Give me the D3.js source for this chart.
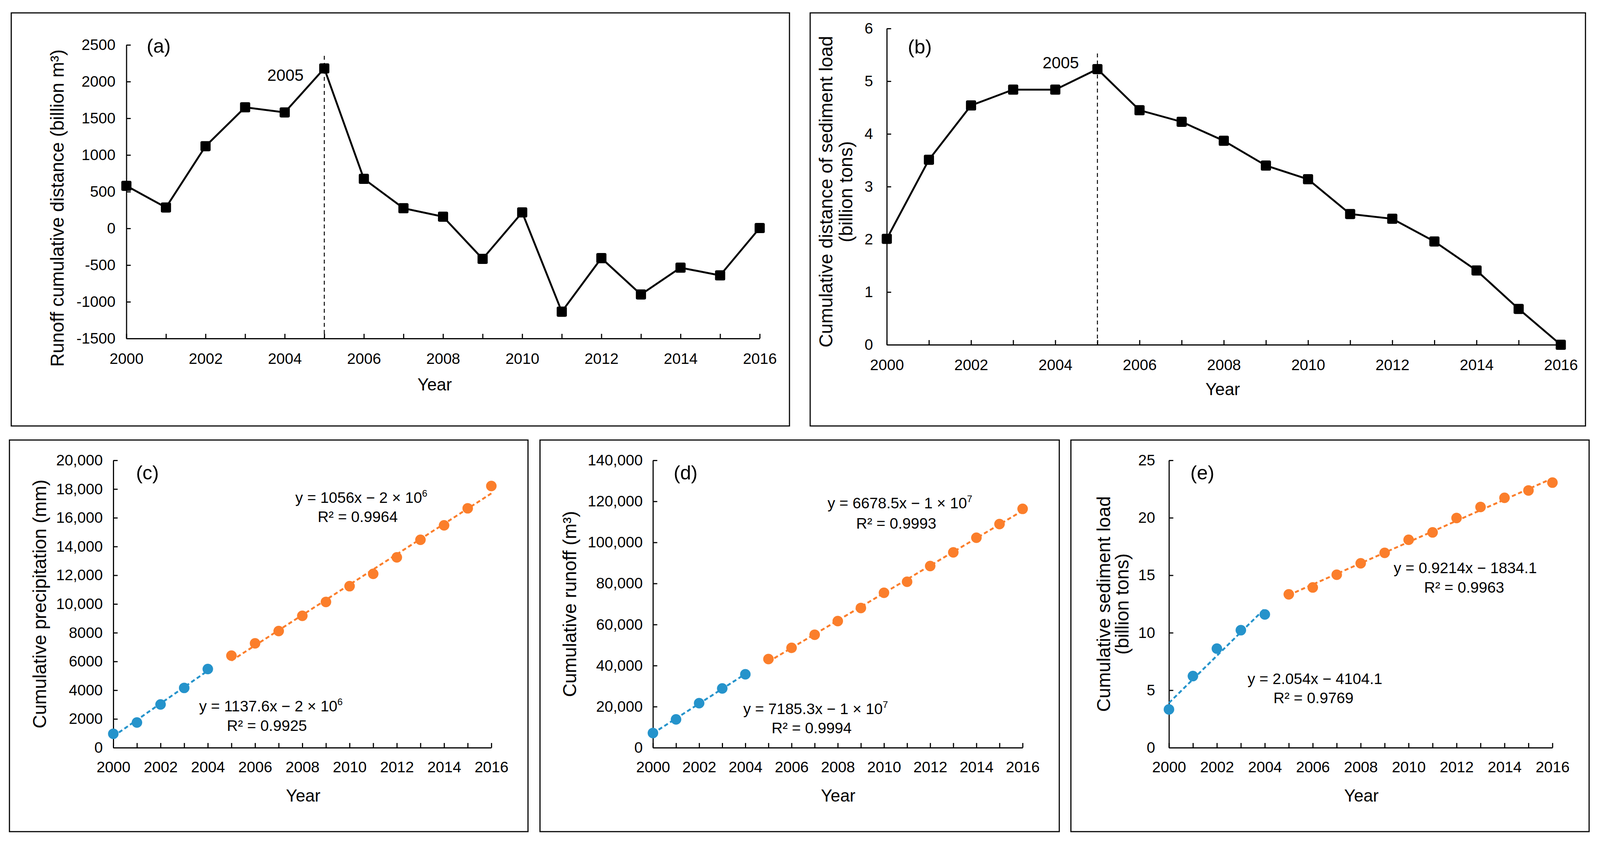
<!DOCTYPE html>
<html lang="en">
<head>
<meta charset="UTF-8">
<title>Cumulative distance and double cumulative curves</title>
<script src="https://cdn.jsdelivr.net/npm/d3@7"></script>
<style>
  html, body { margin: 0; padding: 0; background: #fff; overflow: hidden; }
  svg { display: block; }
  text { font-family: "Liberation Sans", Arial, sans-serif; fill: #000; }
</style>
</head>
<body>
<div id="chart"></div>
<script>
// ---- data ----
var years = [2000, 2001, 2002, 2003, 2004, 2005, 2006, 2007, 2008, 2009, 2010, 2011, 2012, 2013, 2014, 2015, 2016];
var breakYear = 2005;

// (a) runoff cumulative distance, billion m3
var runoffDistance = [580, 285, 1120, 1650, 1580, 2180, 675, 275, 160, -415, 218, -1135, -405, -900, -535, -640, 5];
// (b) cumulative distance of sediment load, billion tons
var sedimentDistance = [2.01, 3.51, 4.54, 4.84, 4.84, 5.23, 4.45, 4.23, 3.87, 3.40, 3.14, 2.48, 2.39, 1.96, 1.41, 0.68, 0];
// (c) cumulative precipitation, mm
var precipCum = [967, 1752, 3011, 4161, 5474, 6405, 7263, 8120, 9179, 10146, 11241, 12099, 13248, 14471, 15474, 16661, 18212];
// (d) cumulative runoff, m3
var runoffCum = [7150, 13790, 21700, 28860, 35760, 43170, 48660, 55040, 61690, 68070, 75480, 80840, 88500, 95150, 102300, 108940, 116350];
// (e) cumulative sediment load, billion tons
var sedimentCum = [3.33, 6.23, 8.62, 10.22, 11.59, 13.34, 13.94, 15.05, 16.04, 16.95, 18.09, 18.73, 19.98, 20.94, 21.74, 22.38, 23.06];

var yTicksA = [-1500, -1000, -500, 0, 500, 1000, 1500, 2000, 2500];
var yTicksB = [0, 1, 2, 3, 4, 5, 6];
var yTicksC = [0, 2000, 4000, 6000, 8000, 10000, 12000, 14000, 16000, 18000, 20000];
var yTicksD = [0, 20000, 40000, 60000, 80000, 100000, 120000, 140000];
var yTicksE = [0, 5, 10, 15, 20, 25];

// trendline labels (^ marks a superscript)
var eqC = [['y = 1137.6x − 2 × 10^6', 'R² = 0.9925'], ['y = 1056x − 2 × 10^6', 'R² = 0.9964']];
var eqD = [['y = 7185.3x − 1 × 10^7', 'R² = 0.9994'], ['y = 6678.5x − 1 × 10^7', 'R² = 0.9993']];
var eqE = [['y = 2.054x − 4104.1', 'R² = 0.9769'], ['y = 0.9214x − 1834.1', 'R² = 0.9963']];

var blue = '#2593cb', orange = '#fb7e2b';

// layout numbers below are in the 4406x2154 reference frame,
// mapped onto whatever the viewport really is
var W = 4406, H = 2154;
var vw = window.innerWidth || W, vh = window.innerHeight || H;
var sx = vw / W, sy = vh / H, sm = Math.sqrt(sx * sy);
function X(v){ return v * sx; }
function Y(v){ return v * sy; }

var svg = d3.select('#chart').append('svg')
    .attr('width', vw)
    .attr('height', vh);
svg.append('rect').attr('width', vw).attr('height', vh).attr('fill', '#fff');

// excel style: thousands separator only from 10,000 up
function fmtExcel(v) {
    return Math.abs(v) >= 10000 ? d3.format(',')(v) : String(v);
}

function linearFit(xs, ys) {
    var mx = d3.mean(xs), my = d3.mean(ys);
    var sxy = d3.sum(xs, function(v, i){ return (v - mx) * (ys[i] - my); });
    var sxx = d3.sum(xs, function(v){ return (v - mx) * (v - mx); });
    var b = sxy / sxx;
    return function(v){ return my + b * (v - mx); };
}

// text with an optional trailing superscript after '^'
function label(x, y, str, size) {
    var fs = size * sx;
    var t = svg.append('text')
        .attr('x', X(x)).attr('y', Y(y))
        .attr('font-size', fs)
        .attr('text-anchor', 'middle');
    var parts = str.split('^');
    t.append('tspan').text(parts[0]);
    if (parts.length > 1) {
        t.append('tspan').attr('font-size', fs * 0.62).attr('dy', -fs * 0.4).text(parts[1]);
    }
    return t;
}

function rotLabel(x, y, str, size) {
    svg.append('text')
        .attr('transform', 'translate(' + X(x) + ',' + Y(y) + ') rotate(-90)')
        .attr('font-size', size * sy)
        .attr('text-anchor', 'middle')
        .text(str);
}

function drawPanel(p) {
    svg.append('rect')
        .attr('x', X(p.box[0])).attr('y', Y(p.box[1]))
        .attr('width', X(p.box[2] - p.box[0])).attr('height', Y(p.box[3] - p.box[1]))
        .attr('fill', 'none').attr('stroke', '#000').attr('stroke-width', 3 * sm);

    var x = d3.scaleLinear().domain([2000, 2016]).range([X(p.left), X(p.right)]);
    var y = d3.scaleLinear()
        .domain([p.yTicks[0], p.yTicks[p.yTicks.length - 1]])
        .range([Y(p.bottom), Y(p.top)]);

    var g = svg.append('g');
    g.append('g')
        .attr('transform', 'translate(0,' + Y(p.bottom) + ')')
        .call(d3.axisBottom(x)
            .tickValues(years)
            .tickFormat(function(d){ return d % 2 === 0 ? d : ''; })
            .tickSizeInner(-Y(12)).tickSizeOuter(0)
            .tickPadding(Y(p.xPad)));
    g.append('g')
        .attr('transform', 'translate(' + X(p.left) + ',0)')
        .call(d3.axisLeft(y)
            .tickValues(p.yTicks)
            .tickFormat(fmtExcel)
            .tickSizeInner(-X(12)).tickSizeOuter(0)
            .tickPadding(X(p.yPad)));
    g.selectAll('.domain, .tick line').attr('stroke', '#000').attr('stroke-width', 3 * sm);
    g.selectAll('.tick text').attr('font-size', 42 * sx).attr('fill', '#000');

    // panel letter, axis titles
    label(p.letter[0], p.letter[1], p.name, 54);
    label(p.year[0], p.year[1], 'Year', 47);
    p.yTitle.forEach(function(t){ rotLabel(t[0], t[1], t[2], 48); });

    return {x: x, y: y};
}

// ---- top row: cumulative distance curves ----
function drawDistance(p, values) {
    var s = drawPanel(p);
    // break year marker
    svg.append('line')
        .attr('x1', s.x(breakYear)).attr('x2', s.x(breakYear))
        .attr('y1', Y(p.breakTop)).attr('y2', Y(p.bottom))
        .attr('stroke', '#000').attr('stroke-width', 2.5 * sm)
        .attr('stroke-dasharray', (10 * sy) + ',' + (8 * sy));
    label(p.breakLabel[0], p.breakLabel[1], String(breakYear), 45);

    var line = d3.line()
        .x(function(d, i){ return s.x(years[i]); })
        .y(function(d){ return s.y(d); });
    svg.append('path').datum(values)
        .attr('d', line)
        .attr('fill', 'none').attr('stroke', '#000').attr('stroke-width', 5 * sm)
        .attr('stroke-linejoin', 'round');
    var half = 13.5 * sm;
    svg.append('g').selectAll('rect')
        .data(values)
        .enter()
        .append('rect')
        .attr('x', function(d, i){ return s.x(years[i]) - half; })
        .attr('y', function(d){ return s.y(d) - half; })
        .attr('width', 2 * half).attr('height', 2 * half)
        .attr('rx', 4 * sm)
        .attr('fill', '#000');
}

// ---- bottom row: double cumulative curves split at the break year ----
function drawCumulative(p, values, eqs) {
    var s = drawPanel(p);
    var idx = years.map(function(d, i){ return i; });
    var groups = [
        {color: blue, idx: idx.filter(function(i){ return years[i] < breakYear; })},
        {color: orange, idx: idx.filter(function(i){ return years[i] >= breakYear; })}
    ];
    groups.forEach(function(grp, k) {
        var xs = grp.idx.map(function(i){ return years[i]; });
        var ys = grp.idx.map(function(i){ return values[i]; });
        svg.append('g').selectAll('circle')
            .data(ys)
            .enter()
            .append('circle')
            .attr('cx', function(d, i){ return s.x(xs[i]); })
            .attr('cy', function(d){ return s.y(d); })
            .attr('r', 14 * sm)
            .attr('fill', grp.color);
        var fit = linearFit(xs, ys);
        var ends = [xs[0], xs[xs.length - 1]];
        svg.append('line')
            .attr('x1', s.x(ends[0])).attr('y1', s.y(fit(ends[0])))
            .attr('x2', s.x(ends[1])).attr('y2', s.y(fit(ends[1])))
            .attr('stroke', grp.color).attr('stroke-width', 5 * sm)
            .attr('stroke-dasharray', (11 * sm) + ',' + (7 * sm));
        var pos = p.eqPos[k];
        label(pos[0], pos[1], eqs[k][0], 42);
        label(pos[2], pos[3], eqs[k][1], 42);
    });
}

drawDistance({
    name: '(a)', box: [31, 33, 2174, 1091],
    left: 348, right: 2092, top: 115, bottom: 867,
    yTicks: yTicksA, yPad: 30, xPad: 37,
    letter: [437, 135], year: [1197, 1000],
    yTitle: [[175, 533, 'Runoff cumulative distance (billion m³)']],
    breakTop: 143, breakLabel: [786, 207]
}, runoffDistance);

drawDistance({
    name: '(b)', box: [2231, 33, 4366, 1091],
    left: 2442, right: 4298, top: 73, bottom: 883,
    yTicks: yTicksB, yPad: 38, xPad: 37,
    letter: [2533, 137], year: [3367, 1012],
    yTitle: [[2292, 491, 'Cumulative  distance of sediment load'], [2347, 491, '(billion tons)']],
    breakTop: 137, breakLabel: [2921, 175]
}, sedimentDistance);

drawCumulative({
    name: '(c)', box: [26, 1127, 1454, 2130],
    left: 312, right: 1353, top: 1179, bottom: 1915,
    yTicks: yTicksC, yPad: 29, xPad: 35,
    letter: [406, 1228], year: [835, 2053],
    yTitle: [[127, 1547, 'Cumulative precipitation (mm)']],
    eqPos: [[746, 1822, 735, 1872], [995, 1288, 985, 1337]]
}, precipCum, eqC);

drawCumulative({
    name: '(d)', box: [1487, 1127, 2917, 2130],
    left: 1798, right: 2816, top: 1179, bottom: 1915,
    yTicks: yTicksD, yPad: 28, xPad: 35,
    letter: [1888, 1228], year: [2308, 2053],
    yTitle: [[1587, 1547, 'Cumulative runoff (m³)']],
    eqPos: [[2246, 1829, 2235, 1878], [2478, 1302, 2468, 1354]]
}, runoffCum, eqD);

drawCumulative({
    name: '(e)', box: [2949, 1127, 4376, 2130],
    left: 3219, right: 4275, top: 1179, bottom: 1915,
    yTicks: yTicksE, yPad: 38, xPad: 35,
    letter: [3311, 1228], year: [3749, 2053],
    yTitle: [[3057, 1547, 'Cumulative sediment load'], [3108, 1547, '(billion tons)']],
    eqPos: [[3621, 1752, 3617, 1801], [4035, 1468, 4032, 1518]]
}, sedimentCum, eqE);
</script>
</body>
</html>
